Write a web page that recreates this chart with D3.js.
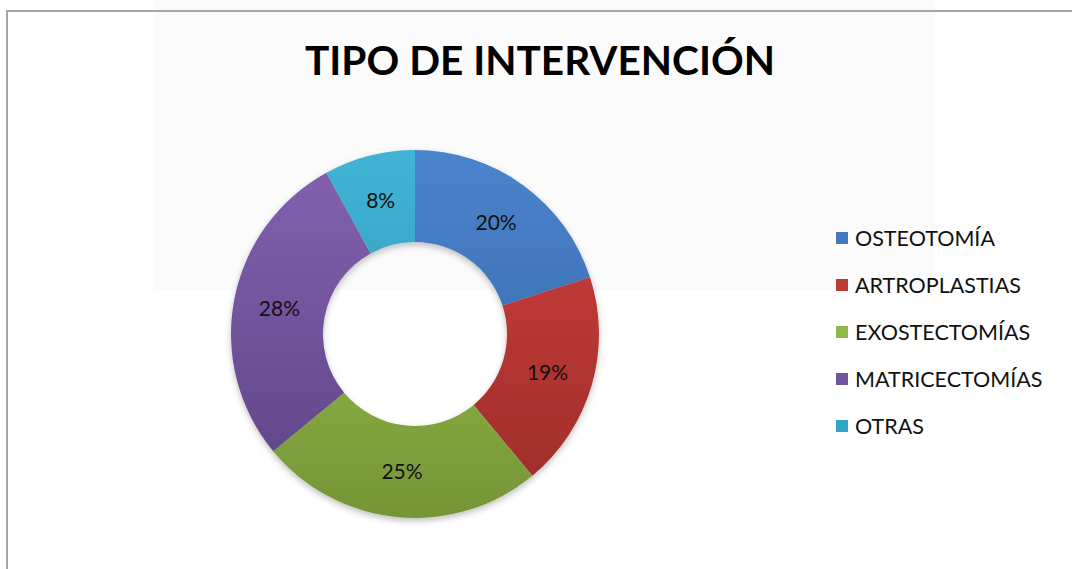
<!DOCTYPE html>
<html>
<head>
<meta charset="utf-8">
<script src="https://cdn.jsdelivr.net/npm/d3@7"></script>
<style>
  html, body { margin: 0; padding: 0; background: #fff; }
  svg { display: block; }
</style>
</head>
<body>
<div id="chart"></div>
<script>
// Data
const categories = ["OSTEOTOMÍA", "ARTROPLASTIAS", "EXOSTECTOMÍAS", "MATRICECTOMÍAS", "OTRAS"];
const values = [20, 19, 25, 28, 8];
const colorsTop = ["#4a84cc", "#cf413d", "#a2cb50", "#8462b1", "#40b4d5"];
const colorsBottom = ["#3462a2", "#9c2c2a", "#759537", "#5c4283", "#2a8faa"];
const legendColors = ["#4478bd", "#bf3a37", "#91b748", "#72539f", "#35a5c5"];

const width = 1072;
const height = 569;
const cx = 415, cy = 334;
const outerR = 184, innerR = 92;

const svg = d3.select("#chart")
  .append("svg")
  .attr("width", width)
  .attr("height", height);

svg.append("rect").attr("width", width).attr("height", height).attr("fill", "#fff");

// Very faint watermark area behind the chart
svg.append("rect")
  .attr("x", 155).attr("y", 0).attr("width", 780).attr("height", 290)
  .attr("fill", "#fbfbfb");

// Chart border (top and left visible)
svg.append("path")
  .attr("d", `M7,${height} L7,11 L${width},11`)
  .attr("fill", "none")
  .attr("stroke", "#a6a6a6")
  .attr("stroke-width", 2);

// Gradients, in the donut group's coordinates
const defs = svg.append("defs");
categories.forEach((c, i) => {
  const g = defs.append("linearGradient")
    .attr("id", `grad${i}`)
    .attr("gradientUnits", "userSpaceOnUse")
    .attr("x1", 0).attr("y1", -outerR)
    .attr("x2", 0).attr("y2", outerR);
  g.append("stop").attr("offset", "0%").attr("stop-color", colorsTop[i]);
  g.append("stop").attr("offset", "100%").attr("stop-color", colorsBottom[i]);
});

const shadow = defs.append("filter")
  .attr("id", "shadow")
  .attr("x", "-20%").attr("y", "-20%").attr("width", "140%").attr("height", "140%");
shadow.append("feDropShadow")
  .attr("dx", 0).attr("dy", 3).attr("stdDeviation", 3)
  .attr("flood-color", "#000").attr("flood-opacity", 0.25);

// Title
svg.append("text")
  .attr("x", 540)
  .attr("y", 75)
  .attr("text-anchor", "middle")
  .attr("font-family", "Lato, Open Sans, sans-serif")
  .attr("font-weight", "bold")
  .attr("font-size", 41)
  .attr("textLength", 470)
  .attr("lengthAdjust", "spacingAndGlyphs")
  .attr("fill", "#000")
  .text("TIPO DE INTERVENCIÓN");

// Donut
const pie = d3.pie().sort(null).value(d => d);
const arc = d3.arc().innerRadius(innerR).outerRadius(outerR);
const arcs = pie(values);

const g = svg.append("g").attr("transform", `translate(${cx},${cy})`);

g.append("g")
  .attr("filter", "url(#shadow)")
  .selectAll("path")
  .data(arcs)
  .join("path")
  .attr("d", arc)
  .attr("fill", (d, i) => `url(#grad${i})`);

g.selectAll("text.lbl")
  .data(arcs)
  .join("text")
  .attr("class", "lbl")
  .attr("x", d => arc.centroid(d)[0])
  .attr("y", d => arc.centroid(d)[1])
  .attr("dy", "0.35em")
  .attr("text-anchor", "middle")
  .attr("font-family", "Lato, Open Sans, sans-serif")
  .attr("font-size", 21)
  .attr("fill", "#111")
  .text(d => `${d.data}%`);

// Legend
const legend = svg.append("g").attr("transform", "translate(836, 238)");
const rowH = 47;
categories.forEach((c, i) => {
  const row = legend.append("g").attr("transform", `translate(0, ${i * rowH})`);
  row.append("rect")
    .attr("x", 0).attr("y", -6)
    .attr("width", 12).attr("height", 12)
    .attr("fill", legendColors[i]);
  row.append("text")
    .attr("x", 19)
    .attr("y", 0)
    .attr("dy", "0.36em")
    .attr("font-family", "Lato, Open Sans, sans-serif")
    .attr("font-size", 21.5)
    .attr("fill", "#111")
    .text(c);
});
</script>
</body>
</html>
